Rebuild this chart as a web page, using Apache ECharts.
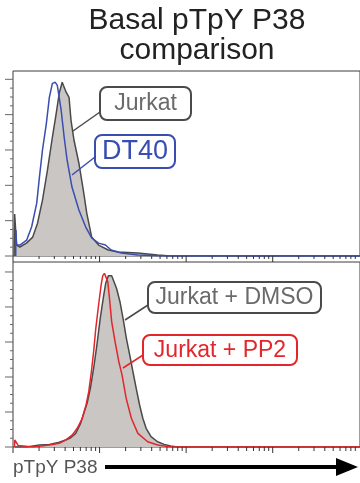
<!DOCTYPE html>
<html>
<head>
<meta charset="utf-8">
<script src="https://cdn.jsdelivr.net/npm/echarts@6/dist/echarts.min.js"></script>
<style>
html,body{margin:0;padding:0;background:#fff;}
#chart{width:360px;height:483px;}
</style>
</head>
<body>
<div id="chart"></div>
<script>
// ---- data (intensity on log scale, % of max) ----
const jurkatTopX = [10.3, 10.45, 11.0, 12.0, 14.3, 16.9, 19.2, 21.9, 25.0, 28.5, 31.6, 34.2, 37.0, 39.0, 41.1, 44.4, 46.8, 50.7, 57.7, 65.7, 71.1, 81.1, 97.4, 126, 164, 277, 468, 658, 102000];
const jurkatTopY = [0, 23.7, 6.2, 5.1, 7.3, 10.7, 18.6, 31.6, 48.6, 67.2, 80.8, 92.1, 98.3, 97.7, 92.7, 89.8, 76.8, 65.5, 52.5, 35.6, 24.3, 10.7, 6.2, 3.4, 2.3, 1.7, 0.6, 0, 0];

const dt40TopX = [10.75, 10.8, 11.0, 12.0, 14.4, 16.4, 18.8, 20.2, 21.9, 24.3, 26.3, 28.5, 30.8, 32.5, 36.0, 39.0, 42.2, 48.0, 57.7, 69.2, 81.1, 97.4, 117, 136, 178, 277, 563, 102000];
const dt40TopY = [0, 14.7, 6.2, 6.2, 9.0, 16.4, 29.9, 44.6, 59.9, 75.1, 89.8, 97.7, 98.3, 96.6, 82.5, 67.2, 54.2, 39.0, 26.0, 16.4, 10.2, 7.3, 6.2, 3.4, 1.7, 0.6, 0, 0];

const dmsoX = [10.5, 14.4, 20.2, 26.3, 34.2, 40.6, 46.4, 53.0, 60.4, 65.7, 71.8, 78.3, 85.4, 93.2, 101.8, 111, 117.7, 126.3, 132, 138, 141, 144, 157, 172, 188, 204, 223, 243, 265, 290, 316, 345, 393, 468, 558, 663, 791, 102000];
const dmsoY = [0, 0, 1.1, 1.5, 2.7, 4.0, 5.3, 7.8, 13.5, 19.3, 25.0, 33.5, 45.0, 58.3, 73.5, 85.9, 93.5, 97.9, 98.9, 97.9, 98.7, 97.3, 90.7, 83.0, 72.6, 62.1, 52.6, 43.0, 33.5, 24.0, 16.4, 10.7, 5.9, 3.0, 1.5, 0.6, 0, 0];

const pp2X = [10.4, 10.5, 11.5, 17.0, 26.3, 34.2, 40.6, 48.4, 55.2, 63.1, 69.8, 75.0, 80.4, 85.4, 90.5, 97.4, 104.3, 108.9, 113.8, 119, 124.4, 129, 138, 151, 167, 182, 203, 233, 277, 360, 469, 660, 102000];
const pp2Y = [0, 4.0, 0.8, 0, 1.1, 2.1, 4.0, 6.9, 10.7, 16.4, 24.0, 31.6, 43.0, 54.5, 67.8, 81.1, 92.6, 97.9, 99.2, 98.7, 94.5, 86.9, 71.6, 60.2, 48.7, 41.1, 27.8, 16.4, 7.8, 3.0, 1.1, 0, 0];

const seriesNames = ['Jurkat', 'DT40', 'Jurkat + DMSO', 'Jurkat + PP2'];
const titleLines = ['Basal pTpY P38', 'comparison'];
const xAxisName = 'pTpY P38';

// axis settings
const X_MIN = 10, X_MAX = 102000;
const xMajorTicks = [10, 100, 1000, 10000];
const xMinorTicks = [];
xMajorTicks.forEach(d => { for (let k = 2; k <= 9; k++) { if (d * k < X_MAX) xMinorTicks.push(d * k); } });
const yMajorTicks = [0, 20, 40, 60, 80, 100];
const yMinorTicks = [5, 10, 15, 25, 30, 35, 45, 50, 55, 65, 70, 75, 85, 90, 95];

const zip = (xs, ys) => xs.map((x, i) => [x, ys[i]]);

const FONT = '"Liberation Sans", Arial, Helvetica, sans-serif';
const GRAY_FILL = '#c9c6c3';
const GRAY_LINE = '#4a4a4a';
const BLUE = '#3a4db0';
const RED = '#e2262b';

function tickData(xMajLen, xMinLen) {
  const d = [];
  xMajorTicks.forEach(v => d.push([v, 0, xMajLen, 0]));
  xMinorTicks.forEach(v => d.push([v, 0, xMinLen, 0]));
  yMajorTicks.forEach(v => d.push([X_MIN, v, 8, 1]));
  yMinorTicks.forEach(v => d.push([X_MIN, v, 3, 1]));
  return d;
}

function tickRender(params, api) {
  const c = api.coord([api.value(0), api.value(1)]);
  const len = api.value(2);
  const isY = api.value(3) === 1;
  const shape = isY
    ? { x1: c[0] - len, y1: c[1], x2: c[0], y2: c[1] }
    : { x1: c[0], y1: c[1], x2: c[0], y2: c[1] + len };
  return { type: 'line', shape: shape, style: { stroke: isY ? '#666' : '#333', lineWidth: 1 } };
}

const chart = echarts.init(document.getElementById('chart'), null, { renderer: 'canvas' });

const gridCommon = { left: 13, right: -5, show: true, borderColor: '#3c3c3c', borderWidth: 1 };
const xAxisCommon = {
  type: 'log', logBase: 10, min: X_MIN, max: X_MAX,
  axisLine: { show: false }, axisTick: { show: false }, axisLabel: { show: false }, splitLine: { show: false }
};
const yAxisCommon = {
  type: 'value', min: 0,
  axisLine: { show: false }, axisTick: { show: false }, axisLabel: { show: false }, splitLine: { show: false }
};

const option = {
  animation: false,
  grid: [
    Object.assign({ top: 71, height: 185 }, gridCommon),
    Object.assign({ top: 262, height: 185 }, gridCommon)
  ],
  xAxis: [
    Object.assign({ gridIndex: 0 }, xAxisCommon),
    Object.assign({ gridIndex: 1 }, xAxisCommon)
  ],
  yAxis: [
    Object.assign({ gridIndex: 0, max: 104.7 }, yAxisCommon),
    Object.assign({ gridIndex: 1, max: 105.7 }, yAxisCommon)
  ],
  series: [
    {
      name: seriesNames[0], type: 'line', xAxisIndex: 0, yAxisIndex: 0,
      data: zip(jurkatTopX, jurkatTopY), showSymbol: false,
      lineStyle: { color: GRAY_LINE, width: 1.5 }, itemStyle: { color: GRAY_LINE },
      areaStyle: { color: GRAY_FILL, opacity: 1 }, z: 2
    },
    {
      name: seriesNames[1], type: 'line', xAxisIndex: 0, yAxisIndex: 0,
      data: zip(dt40TopX, dt40TopY), showSymbol: false,
      lineStyle: { color: BLUE, width: 1.5 }, itemStyle: { color: BLUE }, z: 3
    },
    {
      name: seriesNames[2], type: 'line', xAxisIndex: 1, yAxisIndex: 1,
      data: zip(dmsoX, dmsoY), showSymbol: false,
      lineStyle: { color: GRAY_LINE, width: 1.5 }, itemStyle: { color: GRAY_LINE },
      areaStyle: { color: GRAY_FILL, opacity: 1 }, z: 2
    },
    {
      name: seriesNames[3], type: 'line', xAxisIndex: 1, yAxisIndex: 1,
      data: zip(pp2X, pp2Y), showSymbol: false,
      lineStyle: { color: RED, width: 1.5 }, itemStyle: { color: RED }, z: 3
    },
    {
      type: 'custom', xAxisIndex: 0, yAxisIndex: 0, clip: false, silent: true,
      encode: { x: 0, y: 1 }, data: tickData(6, 3), renderItem: tickRender, z: 4
    },
    {
      type: 'custom', xAxisIndex: 1, yAxisIndex: 1, clip: false, silent: true,
      encode: { x: 0, y: 1 }, data: tickData(6, 4), renderItem: tickRender, z: 4
    }
  ],
  graphic: [
    { type: 'text', x: 197, y: 6, z: 10,
      style: { text: titleLines.join('\n'), textAlign: 'center', textVerticalAlign: 'top',
               font: '30px ' + FONT, lineHeight: 30, fill: '#222' } },
    // connectors
    { type: 'line', z: 10, shape: { x1: 100, y1: 112, x2: 73, y2: 131 }, style: { stroke: GRAY_LINE, lineWidth: 1.5 } },
    { type: 'line', z: 10, shape: { x1: 95, y1: 157, x2: 72, y2: 175 }, style: { stroke: BLUE, lineWidth: 1.5 } },
    { type: 'line', z: 10, shape: { x1: 148, y1: 305, x2: 125, y2: 320 }, style: { stroke: GRAY_LINE, lineWidth: 1.5 } },
    { type: 'line', z: 10, shape: { x1: 143, y1: 355, x2: 123, y2: 368 }, style: { stroke: RED, lineWidth: 1.5 } },
    // label boxes
    { type: 'rect', z: 11, shape: { x: 100, y: 87, width: 91, height: 33, r: 7 }, style: { fill: '#fff', stroke: GRAY_LINE, lineWidth: 2 } },
    { type: 'text', z: 12, x: 145.5, y: 104, style: { text: seriesNames[0], textAlign: 'center', textVerticalAlign: 'middle', font: '23px ' + FONT, fill: '#6a6a6a' } },
    { type: 'rect', z: 11, shape: { x: 95, y: 135, width: 80, height: 33, r: 7 }, style: { fill: '#fff', stroke: BLUE, lineWidth: 2 } },
    { type: 'text', z: 12, x: 135, y: 152, style: { text: seriesNames[1], textAlign: 'center', textVerticalAlign: 'middle', font: '27px ' + FONT, fill: BLUE } },
    { type: 'rect', z: 11, shape: { x: 148, y: 282, width: 173, height: 31, r: 7 }, style: { fill: '#fff', stroke: GRAY_LINE, lineWidth: 2 } },
    { type: 'text', z: 12, x: 234.5, y: 298, style: { text: seriesNames[2], textAlign: 'center', textVerticalAlign: 'middle', font: '23px ' + FONT, fill: '#6a6a6a' } },
    { type: 'rect', z: 11, shape: { x: 143, y: 335, width: 154, height: 30, r: 7 }, style: { fill: '#fff', stroke: RED, lineWidth: 2 } },
    { type: 'text', z: 12, x: 220, y: 350.5, style: { text: seriesNames[3], textAlign: 'center', textVerticalAlign: 'middle', font: '23px ' + FONT, fill: RED } },
    // x axis name + arrow
    { type: 'text', z: 10, x: 13, y: 468, style: { text: xAxisName, textAlign: 'left', textVerticalAlign: 'middle', font: '19px ' + FONT, fill: '#555' } },
    { type: 'line', z: 10, shape: { x1: 105, y1: 467, x2: 340, y2: 467 }, style: { stroke: '#000', lineWidth: 4 } },
    { type: 'polygon', z: 10, shape: { points: [[336, 458], [358, 467], [336, 476]] }, style: { fill: '#000' } }
  ]
};

chart.setOption(option);
</script>
</body>
</html>
